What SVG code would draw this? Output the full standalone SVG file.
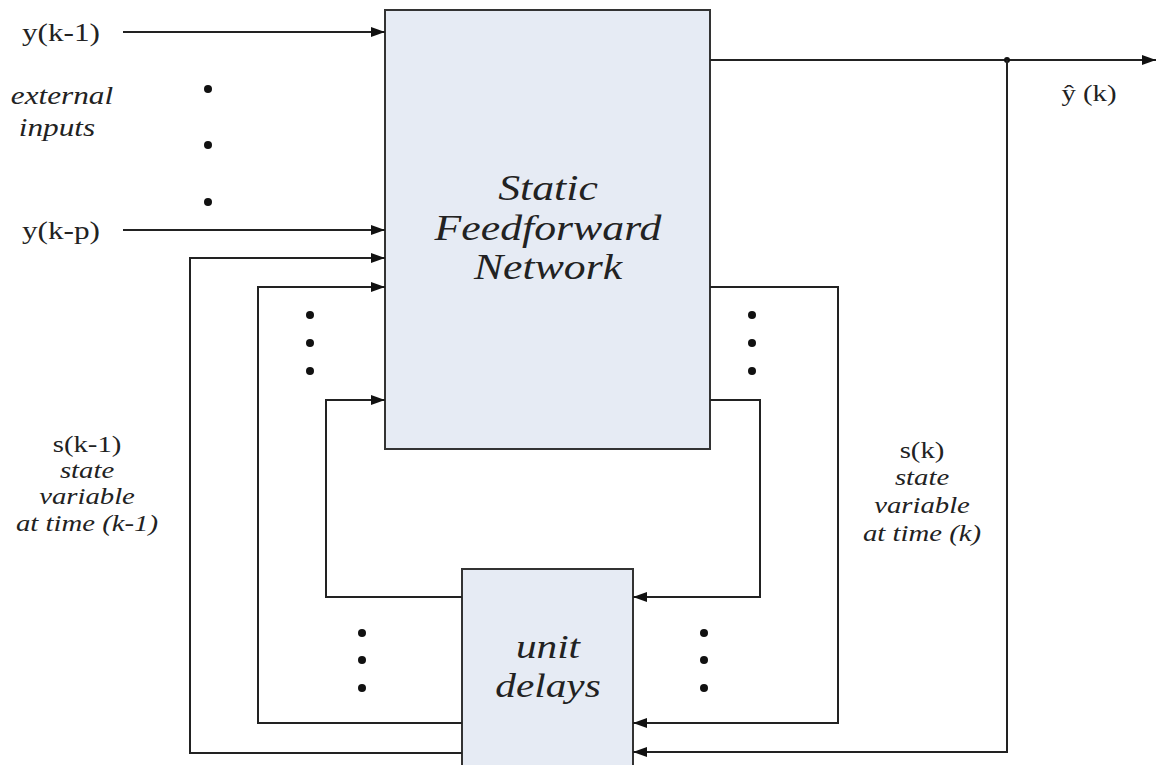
<svg xmlns="http://www.w3.org/2000/svg" width="1157" height="765" viewBox="0 0 1157 765">
  <style>
    .box { fill: #e6ebf4; stroke: #333; stroke-width: 2; }
    .wire { fill: none; stroke: #222; stroke-width: 2; }
    .dot { fill: #111; }
    text { font-family: "Liberation Serif", "Times New Roman", serif; fill: #222; text-anchor: middle; }
    .lbl { font-size: 25px; }
    .it { font-style: italic; }
    .sm { font-size: 23px; }
    .big { font-size: 35px; font-style: italic; }
    .mid { font-size: 33px; font-style: italic; }
  </style>
  <defs>
    <marker id="arrow" markerUnits="userSpaceOnUse" markerWidth="15" markerHeight="11" refX="14" refY="5" orient="auto">
      <path d="M0,0 L14,5 L0,10 z" fill="#111"/>
    </marker>
  </defs>
  <rect width="1157" height="765" fill="#fff"/>

  <!-- feedforward network block -->
  <g id="network">
    <rect class="box" x="385" y="10" width="325" height="439"/>
    <text class="big" transform="translate(548,200) scale(1.25,1)">Static</text>
    <text class="big" transform="translate(548,240) scale(1.25,1)">Feedforward</text>
    <text class="big" transform="translate(548,279) scale(1.25,1)">Network</text>
  </g>

  <!-- unit delay block -->
  <g id="delays">
    <rect class="box" x="462" y="569" width="171" height="210"/>
    <text class="mid" transform="translate(548,658) scale(1.25,1)">unit</text>
    <text class="mid" transform="translate(548,697) scale(1.25,1)">delays</text>
  </g>

  <!-- connectors -->
  <g id="connectors">
    <path class="wire" d="M123,32 H385" marker-end="url(#arrow)"/>
    <path class="wire" d="M123,230 H385" marker-end="url(#arrow)"/>
    <path class="wire" d="M710,60 H1156" marker-end="url(#arrow)"/>
    <circle class="dot" cx="1007" cy="60" r="3"/>
    <!-- outputs fed back through the delays -->
    <path class="wire" d="M1007,60 V752 H633" marker-end="url(#arrow)"/>
    <path class="wire" d="M710,287 H838 V723 H633" marker-end="url(#arrow)"/>
    <path class="wire" d="M710,400 H760 V597 H633" marker-end="url(#arrow)"/>
    <!-- delayed states back into the network -->
    <path class="wire" d="M462,753 H190 V258 H385" marker-end="url(#arrow)"/>
    <path class="wire" d="M462,723 H258 V287 H385" marker-end="url(#arrow)"/>
    <path class="wire" d="M462,597 H326 V400 H385" marker-end="url(#arrow)"/>
  </g>

  <!-- ellipsis dots -->
  <g id="ellipses">
    <circle class="dot" cx="208" cy="89" r="4"/>
    <circle class="dot" cx="208" cy="145" r="4"/>
    <circle class="dot" cx="208" cy="202" r="4"/>
    <circle class="dot" cx="310" cy="315" r="4"/>
    <circle class="dot" cx="310" cy="343" r="4"/>
    <circle class="dot" cx="310" cy="371" r="4"/>
    <circle class="dot" cx="752" cy="315" r="4"/>
    <circle class="dot" cx="752" cy="343" r="4"/>
    <circle class="dot" cx="752" cy="371" r="4"/>
    <circle class="dot" cx="362" cy="633" r="4"/>
    <circle class="dot" cx="362" cy="660" r="4"/>
    <circle class="dot" cx="362" cy="688" r="4"/>
    <circle class="dot" cx="704" cy="633" r="4"/>
    <circle class="dot" cx="704" cy="660" r="4"/>
    <circle class="dot" cx="704" cy="688" r="4"/>
  </g>

  <!-- labels -->
  <g id="labels">
    <text class="lbl" transform="translate(61,41) scale(1.25,1)">y(k-1)</text>
    <text class="lbl it" font-size="24" transform="translate(62,104) scale(1.25,1)">external</text>
    <text class="lbl it" transform="translate(57,136) scale(1.25,1)">inputs</text>
    <text class="lbl" transform="translate(61,239) scale(1.25,1)">y(k-p)</text>
    <text class="sm" transform="translate(1089,101) scale(1.25,1)">ŷ (k)</text>
    <text class="sm" transform="translate(87,452) scale(1.25,1)">s(k-1)</text>
    <text class="sm it" transform="translate(87,478) scale(1.25,1)">state</text>
    <text class="sm it" transform="translate(87,504) scale(1.25,1)">variable</text>
    <text class="sm it" transform="translate(87,531) scale(1.25,1)">at time (k-1)</text>
    <text class="sm" transform="translate(922,458) scale(1.25,1)">s(k)</text>
    <text class="sm it" transform="translate(922,485) scale(1.25,1)">state</text>
    <text class="sm it" transform="translate(922,513) scale(1.25,1)">variable</text>
    <text class="sm it" transform="translate(922,541) scale(1.25,1)">at time (k)</text>
  </g>
</svg>
